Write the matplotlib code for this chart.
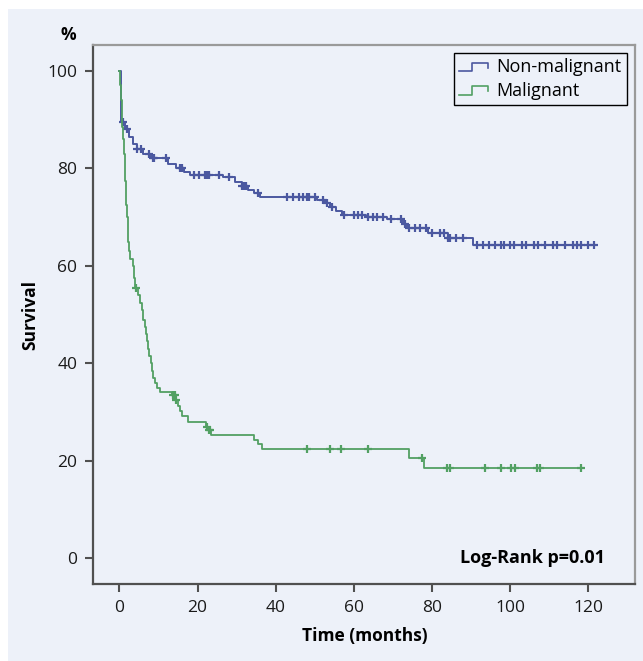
import numpy as np
import matplotlib
matplotlib.use("Agg")
import matplotlib.pyplot as plt
from matplotlib.patches import Rectangle
from matplotlib.lines import Line2D
from matplotlib.legend_handler import HandlerBase

matplotlib.rcParams['font.family'] = ["Open Sans", "DejaVu Sans"]
matplotlib.rcParams['font.size'] = 12

BG = "#edf1f9"
BLUE = "#4b58a0"
GREEN = "#52a063"
DARK = "#505050"
LIGHT = "#9a9a9a"

# Kaplan-Meier steps (time in months, survival in %)
nonmal_t = [0, 0.5, 1.5, 2.5, 3.5, 4.5, 6, 8, 12.5, 14.5, 16.5, 18, 26.5, 29.5, 31.5,
            33, 34.5, 36, 50.5, 52.5, 54, 55.5, 57, 63, 68.5, 72.5, 73.5, 79, 84, 90.5, 122]
nonmal_s = [100, 89.5, 88, 86.5, 85, 84, 83, 82.2, 81, 80, 79.3, 78.7, 78.2, 77.3, 76.4,
            75.6, 74.9, 74.2, 73.6, 72.8, 72, 71.3, 70.4, 70, 69.6, 68.6, 67.7, 66.8, 65.7, 64.3, 64.3]
nonmal_cens = [1.0, 2.0, 4.5, 5.5, 7.5, 8.5, 9, 12, 15.5, 16, 19, 20.5, 22, 22.5, 23,
               25.5, 28, 31.5, 32, 32.5, 35.5, 43, 44.5, 46, 47, 48, 48.5, 50, 52, 53, 54.5,
               57.5, 60, 61, 62, 63.5, 65, 66, 67.5, 69.5, 72, 73, 74, 75.5, 77, 78.5, 80,
               82, 83, 84, 84.5, 86, 88, 91.5, 93, 94.5, 96, 97.5, 98.5, 100, 101, 103, 104,
               106, 107, 109, 111, 112, 114, 116, 117, 118, 120, 121.5]

mal_t = [0, 0.2, 0.4, 0.6, 0.8, 1.0, 1.2, 1.4, 1.5, 1.6, 1.7, 1.9, 2.1, 2.3, 2.5, 2.7,
         3.5, 3.8, 4.0, 4.8, 5.3, 5.7, 6.1, 6.5, 6.8, 7.1, 7.4, 7.7, 8.0, 8.4, 8.7, 9.1,
         9.6, 10.3, 13.5, 14.5, 15.0, 15.5, 16.0, 17.5, 22.3, 22.8, 23.5, 34.5, 35.5,
         36.5, 74.2, 77.9, 118.2]
mal_s = [100, 97, 94, 91, 88.5, 86, 83, 80, 77.5, 75, 72.5, 70, 67.5, 65, 63, 61.5,
         60, 57.5, 55.5, 54, 52.3, 51, 49, 47.5, 46, 44.5, 43, 41.5, 40, 38.5, 37, 36,
         35, 34.2, 33.5, 32.5, 31.3, 30.3, 29.2, 28, 27, 26.3, 25.3, 24.2, 23.5,
         22.5, 20.6, 18.5, 18.5]
mal_cens = [4.3, 13.8, 14.2, 14.6, 22.5, 23, 23.3, 47.9, 53.9, 56.6, 63.5, 77.3, 83.7,
            84.5, 93.5, 97.6, 100.1, 101.2, 106.8, 107.7, 118.2]

x_ticks = [0, 20, 40, 60, 80, 100, 120]
y_ticks = [0, 20, 40, 60, 80, 100]


def step_value(t, s, at):
    idx = np.searchsorted(t, at, side='right') - 1
    return np.asarray(s)[idx]


class StepHandler(HandlerBase):
    def __init__(self, color):
        super().__init__()
        self.color = color

    def create_artists(self, legend, orig_handle, xdescent, ydescent, width, height, fontsize, trans):
        lo = height * 0.1
        hi = height * 0.75
        xs = [0, width * 0.45, width * 0.45, width, width]
        ys = [lo, lo, hi, hi, hi - height * 0.4]
        ln = Line2D(np.array(xs) - xdescent, np.array(ys) - ydescent, color=self.color, lw=1.2)
        ln.set_transform(trans)
        return [ln]


fig = plt.figure(figsize=(6.43, 6.61), dpi=100)
fig.patch.set_facecolor("white")
fig.patches.append(Rectangle((8 / 643, 0), 1 - 8 / 643, 652 / 661, transform=fig.transFigure,
                             facecolor=BG, edgecolor="none", zorder=-10))

ax = fig.add_axes([0.1442, 0.116, 0.8434, 0.8159])
ax.set_zorder(1)
ax.set_facecolor(BG)

ax.step(nonmal_t, nonmal_s, where='post', color=BLUE, lw=1.4)
ax.plot(nonmal_cens, step_value(nonmal_t, nonmal_s, nonmal_cens), '+', color=BLUE,
        ms=6, mew=1.6)
ax.step(mal_t, mal_s, where='post', color=GREEN, lw=1.3)
ax.plot(mal_cens, step_value(mal_t, mal_s, mal_cens), '+', color=GREEN, ms=6, mew=1.6)

ax.set_xlim(-6.8, 131.9)
ax.set_ylim(-5.3, 105.3)
ax.set_xticks(x_ticks)
ax.set_yticks(y_ticks)
ax.tick_params(direction='out', length=6, width=1.5, color=DARK, labelsize=12.5,
               labelcolor="#1a1a1a", pad=5)

for side in ["left", "bottom"]:
    ax.spines[side].set_color(DARK)
    ax.spines[side].set_linewidth(1.6)
for side in ["top", "right"]:
    ax.spines[side].set_color(LIGHT)
    ax.spines[side].set_linewidth(1.6)

ax.text(124.2, 0, "Log-Rank p=0.01", ha='right', va='center', fontsize=13, fontweight='bold')

fig.text(68 / 643, 1 - 35 / 661, "%", ha='center', va='center', fontsize=12.5, fontweight='bold')
fig.text(30 / 643, 1 - 315 / 661, "Survival", ha='center', va='center', rotation='vertical',
         fontsize=12.5, fontweight='bold')
fig.text(365 / 643, 1 - 636 / 661, "Time (months)", ha='center', va='center',
         fontsize=12.5, fontweight='bold')

h1 = Line2D([], [], color=BLUE)
h2 = Line2D([], [], color=GREEN)
lgd = ax.legend([h1, h2], ["Non-malignant", "Malignant"],
                handler_map={h1: StepHandler(BLUE), h2: StepHandler(GREEN)},
                loc='upper right', bbox_to_anchor=(627 / 643, 1 - 53 / 661),
                bbox_transform=fig.transFigure, borderaxespad=0, fancybox=False,
                facecolor=BG, edgecolor="black", framealpha=1, fontsize=13,
                handlelength=1.6, handletextpad=0.45, labelspacing=0.3,
                borderpad=0.3)
lgd.get_frame().set_linewidth(1.0)

fig.savefig("out.png", dpi=100)
